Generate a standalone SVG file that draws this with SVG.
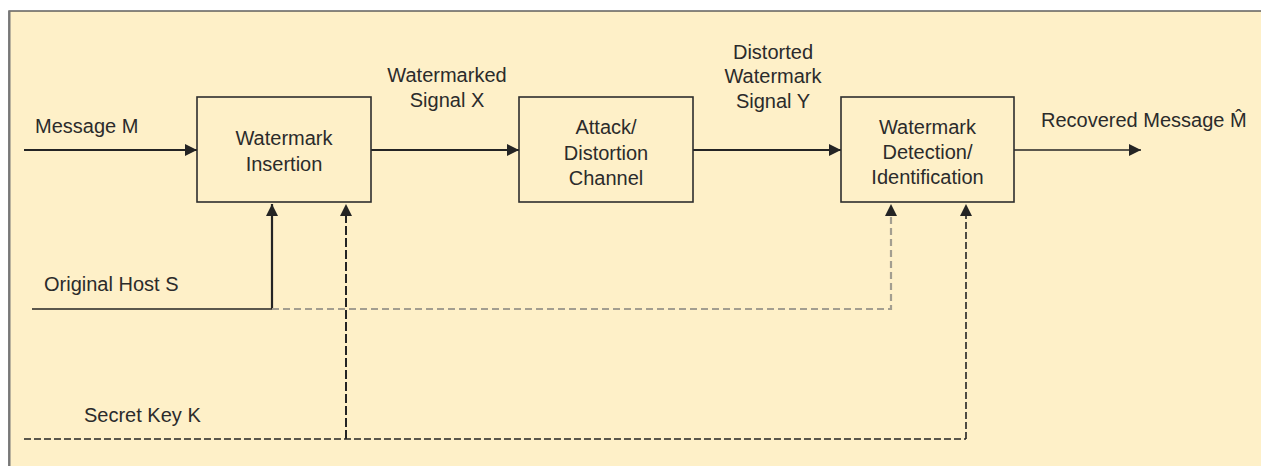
<svg xmlns="http://www.w3.org/2000/svg" width="1261" height="466" viewBox="0 0 1261 466">
<defs>
<style>
text{font-family:"Liberation Sans",Arial,sans-serif;font-size:20px;fill:#2b2b2b}
.c{text-anchor:middle}
.box{fill:#fef0c8;stroke:#2e2e2e;stroke-width:1.6}
.w{fill:none;stroke:#242424;stroke-width:2.2}
.t{fill:none;stroke:#242424;stroke-width:1.4}
.d{fill:none;stroke:#242424;stroke-width:1.6;stroke-dasharray:7 3}
.dv{fill:none;stroke:#242424;stroke-width:2;stroke-dasharray:9 3}
.g{fill:none;stroke:#a39e90;stroke-width:2.2;stroke-dasharray:7 4}
</style>
<marker id="ah" viewBox="0 0 12 12" refX="12" refY="6" markerWidth="12" markerHeight="12" markerUnits="userSpaceOnUse" orient="auto"><path d="M0,0 L12,6 L0,12 Z" fill="#242424"/></marker>
</defs>
<rect x="0" y="0" width="1261" height="466" fill="#ffffff"/>
<rect x="9" y="11" width="1260" height="470" fill="#fef0c8" stroke="#555" stroke-width="1.4"/>
<line x1="9.5" y1="11" x2="9.5" y2="466" stroke="#777" stroke-width="2"/>
<g id="connectors">
<line class="w" x1="24" y1="150" x2="197" y2="150" marker-end="url(#ah)"/>
<line class="w" x1="371" y1="150" x2="519" y2="150" marker-end="url(#ah)"/>
<line class="w" x1="693" y1="150" x2="841" y2="150" marker-end="url(#ah)"/>
<line class="t" x1="1014" y1="150" x2="1141" y2="150" marker-end="url(#ah)"/>
<line class="t" x1="32" y1="309" x2="272" y2="309"/>
<line class="w" x1="272" y1="309" x2="272" y2="204" marker-end="url(#ah)"/>
<polyline class="g" points="272,309 891,309 891,216"/>
<path d="M885,216 L891,204 L897,216 Z" fill="#242424"/>
<line class="d" x1="24" y1="439" x2="966" y2="439"/>
<line class="dv" x1="346" y1="439" x2="346" y2="216"/>
<path d="M340,216 L346,204 L352,216 Z" fill="#242424"/>
<line class="d" x1="966" y1="439" x2="966" y2="216"/>
<path d="M960,216 L966,204 L972,216 Z" fill="#242424"/>
</g>
<g id="insertion">
<rect class="box" x="197" y="97" width="174" height="105"/>
<text class="c" x="284" y="145">Watermark</text>
<text class="c" x="284" y="171">Insertion</text>
</g>
<g id="channel">
<rect class="box" x="519" y="97" width="174" height="105"/>
<text class="c" x="606" y="134">Attack/</text>
<text class="c" x="606" y="159.5">Distortion</text>
<text class="c" x="606" y="185">Channel</text>
</g>
<g id="detection">
<rect class="box" x="841" y="97" width="173" height="105"/>
<text class="c" x="927.5" y="134">Watermark</text>
<text class="c" x="927.5" y="159">Detection/</text>
<text class="c" x="927.5" y="184">Identification</text>
</g>
<g id="labels">
<text x="35" y="133">Message M</text>
<text class="c" x="447" y="82">Watermarked</text>
<text class="c" x="447" y="107">Signal X</text>
<text class="c" x="773" y="58.5">Distorted</text>
<text class="c" x="773" y="83">Watermark</text>
<text class="c" x="773" y="108">Signal Y</text>
<text x="1041" y="127">Recovered Message M̂</text>
<text x="44" y="291">Original Host S</text>
<text x="84" y="422">Secret Key K</text>
</g>
</svg>
